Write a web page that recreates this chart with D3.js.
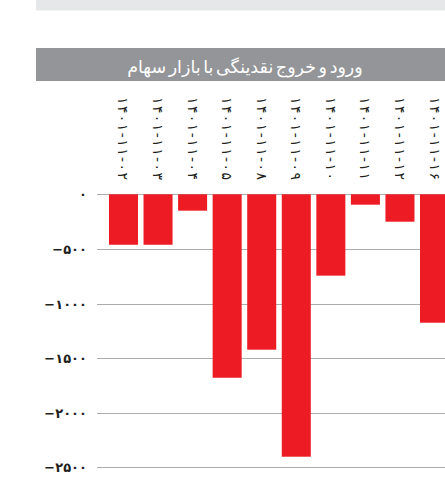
<!DOCTYPE html>
<html><head><meta charset="utf-8">
<script src="https://cdn.jsdelivr.net/npm/d3@7"></script>
<style>body{margin:0;background:#fff}svg{display:block}</style>
</head><body>
<script>
const categories = ["۱۴۰۱-۱۱-۰۲","۱۴۰۱-۱۱-۰۳","۱۴۰۱-۱۱-۰۴","۱۴۰۱-۱۱-۰۵","۱۴۰۱-۱۱-۰۸","۱۴۰۱-۱۱-۰۹","۱۴۰۱-۱۱-۱۰","۱۴۰۱-۱۱-۱۱","۱۴۰۱-۱۱-۱۲","۱۴۰۱-۱۱-۱۶"];
const values = [-462, -462, -150, -1680, -1423, -2403, -745, -95, -251, -1176];
const tickValues = [0, -500, -1000, -1500, -2000, -2500];
const tickLabels = ["۰","−۵۰۰","−۱۰۰۰","−۱۵۰۰","−۲۰۰۰","−۲۵۰۰"];
const title = "ورود و خروج نقدینگی با بازار سهام";

const W = 445, H = 496;
const svg = d3.select("body").append("svg").attr("width", W).attr("height", H);

svg.append("rect").attr("x", 36).attr("y", 0).attr("width", W - 36).attr("height", 10.5).attr("fill", "#e6e7e8");
svg.append("rect").attr("x", 36).attr("y", 48).attr("width", W - 36).attr("height", 33).attr("fill", "#939598");
svg.append("text").attr("x", 245).attr("y", 73).attr("text-anchor", "middle")
  .attr("fill", "#fff").attr("font-family", "DejaVu Sans").attr("font-size", 17.5)
  .attr("word-spacing", -3).attr("direction", "rtl").text(title);

const y = d3.scaleLinear().domain([0, -2500]).range([194.3, 467.3]);
const x = d3.scaleBand().domain(categories).range([106.2, 451.8]).paddingInner(0.16).paddingOuter(0.08);

const grid = svg.append("g");
grid.selectAll("line").data(tickValues).join("line")
  .attr("x1", 97.5).attr("x2", W).attr("y1", d => Math.round(y(d)) + 0.5).attr("y2", d => Math.round(y(d)) + 0.5)
  .attr("stroke", "#58595b").attr("stroke-width", 1).attr("stroke-dasharray", "1,1");

svg.append("g").selectAll("text").data(tickValues).join("text")
  .attr("x", 87).attr("y", d => y(d) + 5).attr("text-anchor", "end")
  .attr("font-family", "DejaVu Sans").attr("font-size", 13).attr("font-weight", "bold")
  .attr("fill", "#231f20").attr("direction", "ltr")
  .text((d, i) => tickLabels[i]);

svg.append("g").selectAll("rect").data(values).join("rect")
  .attr("x", (d, i) => x(categories[i])).attr("width", x.bandwidth())
  .attr("y", y(0)).attr("height", d => y(d) - y(0)).attr("fill", "#ed1c24");

svg.append("g").selectAll("text").data(categories).join("text")
  .attr("transform", d => `translate(${x(d) + x.bandwidth() / 2 - 5},97) rotate(90)`)
  .attr("font-family", "DejaVu Sans").attr("font-size", 14)
  .attr("fill", "#231f20").attr("direction", "ltr")
  .attr("textLength", 83).attr("lengthAdjust", "spacing")
  .text(d => d);
</script>
</body></html>
